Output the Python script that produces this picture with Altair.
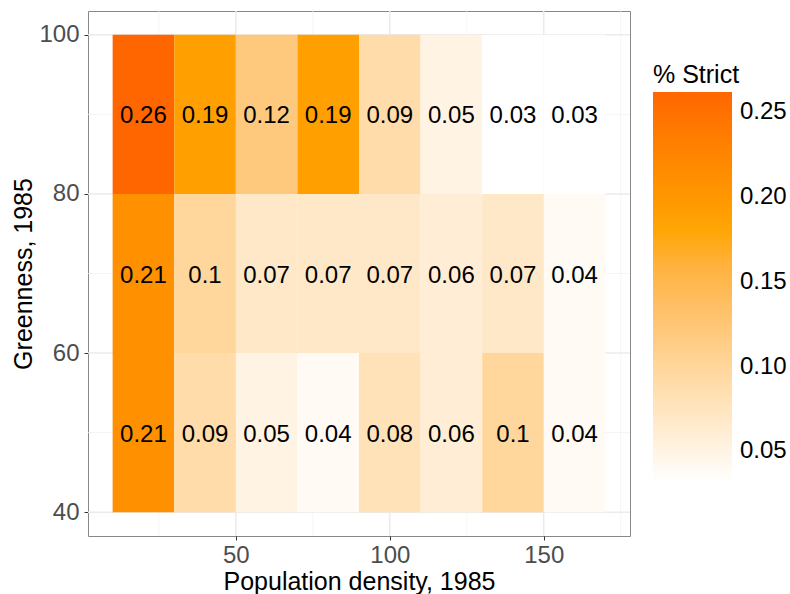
import altair as alt
import pandas as pd

# ---- data ----
density_mid = [20, 40, 60, 80, 100, 120, 140, 160]   # population density bin centres
density_step = 20
greenness_mid = [90, 70, 50]                          # greenness bin centres
greenness_step = 20
strict_90 = [0.262, 0.19, 0.12, 0.19, 0.09, 0.05, 0.032, 0.032]
strict_70 = [0.21, 0.10, 0.07, 0.07, 0.07, 0.06, 0.07, 0.04]
strict_50 = [0.21, 0.09, 0.05, 0.04, 0.08, 0.06, 0.10, 0.04]

x_major = [50, 100, 150]
x_minor = [25, 75, 125, 175]
y_major = [40, 60, 80, 100]
y_minor = [50, 70, 90]
legend_ticks = [0.05, 0.10, 0.15, 0.20, 0.25]

rows = []
for g, vals in zip(greenness_mid, [strict_90, strict_70, strict_50]):
    for d, v in zip(density_mid, vals):
        rows.append({"xm": d, "ym": g,
                     "x0": d - density_step / 2, "x1": d + density_step / 2,
                     "y0": g - greenness_step / 2, "y1": g + greenness_step / 2,
                     "v": v})
df = pd.DataFrame(rows)

FONT = "Liberation Sans"
xs = alt.Scale(domain=[2, 178], nice=False, zero=False)
ys = alt.Scale(domain=[37, 103], nice=False, zero=False)

x_axis = alt.Axis(
    values=x_major, title="Population density, 1985", grid=False, domain=False,
    labelFont=FONT, labelFontSize=24, labelColor="#4d4d4d", labelPadding=3,
    tickColor="#333333", tickSize=4, tickWidth=1, labelFlush=False,
    titleFont=FONT, titleFontSize=25, titleFontWeight="normal", titleColor="black",
    titleX=271, titleY=53.5, titleAlign="center", titleBaseline="alphabetic")
y_axis = alt.Axis(
    values=y_major, title="Greenness, 1985", grid=False, domain=False,
    labelFont=FONT, labelFontSize=24, labelColor="#4d4d4d", labelPadding=5,
    tickColor="#333333", tickSize=4, tickWidth=1, labelFlush=False,
    titleFont=FONT, titleFontSize=25, titleFontWeight="normal", titleColor="black",
    titleAngle=270, titleX=-57, titleY=262.5, titleAlign="center",
    titleBaseline="alphabetic")

minor_x = alt.Chart(pd.DataFrame({"v": x_minor})).mark_rule(
    color="#f2f2f2", strokeWidth=0.8).encode(x=alt.X("v:Q", scale=xs, axis=x_axis))
major_x = alt.Chart(pd.DataFrame({"v": x_major})).mark_rule(
    color="#ebebeb", strokeWidth=1.5).encode(x=alt.X("v:Q", scale=xs, axis=x_axis))
minor_y = alt.Chart(pd.DataFrame({"v": y_minor})).mark_rule(
    color="#f2f2f2", strokeWidth=0.8).encode(y=alt.Y("v:Q", scale=ys, axis=y_axis))
major_y = alt.Chart(pd.DataFrame({"v": y_major})).mark_rule(
    color="#ebebeb", strokeWidth=1.5).encode(y=alt.Y("v:Q", scale=ys, axis=y_axis))

color_scale = alt.Scale(domain=[0.032, 0.181, 0.262],
                        range=["#ffffff", "#ffa500", "#ff6600"],
                        interpolate="lab")

tiles = alt.Chart(df).mark_rect(strokeWidth=0).encode(
    x=alt.X("x0:Q", scale=xs, axis=x_axis),
    x2="x1:Q",
    y=alt.Y("y0:Q", scale=ys, axis=y_axis),
    y2="y1:Q",
    color=alt.Color("v:Q", scale=color_scale, legend=alt.Legend(
        title="% Strict", orient="none", legendX=565, legendY=52,
        direction="vertical", gradientLength=390, gradientThickness=79,
        gradientStrokeWidth=0, values=legend_ticks, format=".2f",
        labelFont=FONT, labelFontSize=24, labelColor="black", labelOffset=8,
        labelOverlap=False,
        titleFont=FONT, titleFontSize=25, titleFontWeight="normal",
        titleColor="black", titlePadding=4)),
)

labels = alt.Chart(df).mark_text(
    font=FONT, fontSize=24, color="black", baseline="middle", dy=2).encode(
    x=alt.X("xm:Q", scale=xs, axis=x_axis),
    y=alt.Y("ym:Q", scale=ys, axis=y_axis),
    text=alt.Text("v:Q", format=".2~f"),
)

chart = alt.layer(minor_x, minor_y, major_x, major_y, tiles, labels).properties(
    width=542, height=525,
    autosize=alt.AutoSizeParams(type="none"),
    padding={"left": 88, "top": 11, "right": 160, "bottom": 58},
    background="white",
).configure_view(stroke="#888888", strokeWidth=1)

chart.save("out.html", embed_options={"renderer": "svg", "actions": False})
